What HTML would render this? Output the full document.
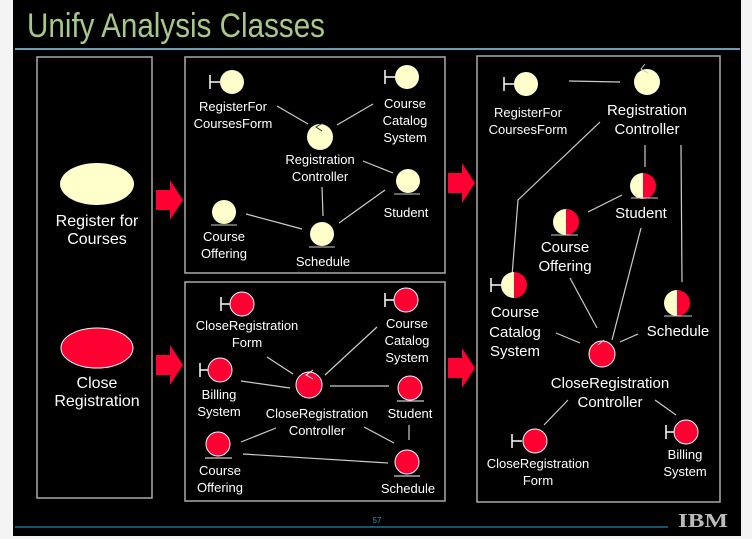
<!DOCTYPE html>
<html><head><meta charset="utf-8"><style>
html,body{margin:0;padding:0;background:#fff;}
svg{display:block;}
text{font-family:"Liberation Sans",sans-serif;fill:#fff;font-size:13px;text-anchor:middle;}
</style></head><body>
<svg width="752" height="539" viewBox="0 0 752 539" xmlns="http://www.w3.org/2000/svg">
<defs>
<clipPath id="lh"><rect x="-20" y="-20" width="20" height="40"/></clipPath>
</defs>
<rect x="0" y="0" width="752" height="539" fill="#f4f4f4"/>
<rect x="13" y="0" width="728" height="536" fill="#000"/>
<text x="27" y="37" style="font-size:34px;fill:#a8c888;text-anchor:start" textLength="298" lengthAdjust="spacingAndGlyphs">Unify Analysis Classes</text>
<line x1="15" y1="49" x2="740" y2="49" stroke="#8fd0f0" stroke-width="1.5"/>
<line x1="15" y1="527" x2="668" y2="527" stroke="#1a7090" stroke-width="1.5"/>
<text x="377" y="523" style="font-size:8px;fill:#3a90c0">57</text>
<text x="703" y="527" style="font-size:20px;font-weight:bold;fill:#bbb;font-family:'Liberation Serif',serif" textLength="50" lengthAdjust="spacingAndGlyphs">IBM</text>

<g fill="none" stroke="#aaa" stroke-width="1.5">
<rect x="37" y="57" width="115" height="441"/>
<rect x="185" y="57" width="260" height="216"/>
<rect x="185" y="282" width="260" height="219"/>
<rect x="477" y="56" width="243" height="446"/>
</g>

<!-- left box -->
<ellipse cx="97" cy="184" rx="37" ry="21" fill="#ffffcc"/>
<text x="97" y="226" style="font-size:16px">Register for</text>
<text x="97" y="244" style="font-size:16px">Courses</text>
<ellipse cx="97" cy="348" rx="36" ry="20" fill="#ff0033" stroke="#fff" stroke-width="1"/>
<text x="97" y="388" style="font-size:16px">Close</text>
<text x="97" y="406" style="font-size:16px">Registration</text>

<!-- arrows -->
<g fill="#ff0033">
<polygon points="156,190 170,190 170,180 183,200 170,220 170,210 156,210"/>
<polygon points="156,355 170,355 170,345 183,365 170,385 170,375 156,375"/>
<polygon points="448,173 462,173 462,163 475,183 462,203 462,193 448,193"/>
<polygon points="448,358 462,358 462,348 475,368 462,388 462,378 448,378"/>
</g>

<!-- connectors -->
<g stroke="#ccc" stroke-width="1.2" fill="none">
<line x1="277" y1="106" x2="308" y2="124"/>
<line x1="373" y1="104" x2="337" y2="125"/>
<line x1="363" y1="161" x2="393" y2="173"/>
<line x1="322" y1="187" x2="323" y2="216"/>
<line x1="246" y1="214" x2="302" y2="229"/>
<line x1="339" y1="223" x2="385" y2="190"/>

<line x1="569" y1="81" x2="620" y2="82"/>
<polyline points="600,122 518,200 512,276"/>
<line x1="645" y1="145" x2="645" y2="167"/>
<line x1="681" y1="145" x2="682" y2="282"/>
<line x1="622" y1="195" x2="588" y2="212"/>
<line x1="641" y1="228" x2="612" y2="340"/>
<line x1="570" y1="278" x2="597" y2="328"/>
<line x1="556" y1="333" x2="580" y2="343"/>
<line x1="620" y1="342" x2="638" y2="334"/>
<line x1="568" y1="400" x2="544" y2="425"/>
<line x1="655" y1="400" x2="676" y2="415"/>

<line x1="267" y1="357" x2="293" y2="374"/>
<line x1="241" y1="381" x2="290" y2="388"/>
<line x1="377" y1="327" x2="325" y2="375"/>
<line x1="330" y1="386" x2="389" y2="386"/>
<line x1="409" y1="425" x2="409" y2="440"/>
<line x1="364" y1="427" x2="394" y2="443"/>
<line x1="276" y1="428" x2="241" y2="442"/>
<line x1="243" y1="454" x2="388" y2="463"/>
</g>

<!-- top middle nodes -->
<g>
<line x1="210" y1="75" x2="210" y2="89" stroke="#fff" stroke-width="1.5"/><line x1="210" y1="82" x2="220" y2="82" stroke="#fff" stroke-width="1.5"/>
<circle cx="232" cy="82" r="12" fill="#ffffcc"/>
<line x1="385" y1="70" x2="385" y2="84" stroke="#fff" stroke-width="1.5"/><line x1="385" y1="77" x2="395" y2="77" stroke="#fff" stroke-width="1.5"/>
<circle cx="407" cy="77" r="12" fill="#ffffcc"/>
<circle cx="320" cy="137" r="13" fill="#ffffcc"/>
<path d="M323 123 L316 127 L322 131" stroke="#333" fill="none" stroke-width="1"/>
<circle cx="408" cy="181" r="12" fill="#ffffcc"/><line x1="394" y1="194" x2="420" y2="194" stroke="#ccc"/>
<circle cx="224" cy="212" r="12" fill="#ffffcc"/><line x1="211" y1="225" x2="237" y2="225" stroke="#ccc"/>
<circle cx="322" cy="234" r="12" fill="#ffffcc"/><line x1="309" y1="247" x2="335" y2="247" stroke="#ccc"/>
</g>
<text x="233" y="111">RegisterFor</text><text x="233" y="128">CoursesForm</text>
<text x="405" y="108">Course</text><text x="405" y="125">Catalog</text><text x="405" y="142">System</text>
<text x="320" y="164">Registration</text><text x="320" y="181">Controller</text>
<text x="406" y="217">Student</text>
<text x="224" y="241">Course</text><text x="224" y="258">Offering</text>
<text x="323" y="266">Schedule</text>

<!-- bottom middle nodes -->
<g stroke="#fff" stroke-width="1">
<line x1="221" y1="297" x2="221" y2="311" stroke-width="1.5"/><line x1="221" y1="304" x2="230" y2="304" stroke-width="1.5"/>
<circle cx="242" cy="304" r="12" fill="#ff0033"/>
<line x1="385" y1="293" x2="385" y2="307" stroke-width="1.5"/><line x1="385" y1="300" x2="394" y2="300" stroke-width="1.5"/>
<circle cx="406" cy="300" r="12" fill="#ff0033"/>
<line x1="200" y1="363" x2="200" y2="377" stroke-width="1.5"/><line x1="200" y1="370" x2="208" y2="370" stroke-width="1.5"/>
<circle cx="220" cy="370" r="12" fill="#ff0033"/>
<circle cx="309" cy="385" r="13" fill="#ff0033"/>
<path d="M313 370 L306 375 L313 379" fill="none"/>
<circle cx="410" cy="388" r="12" fill="#ff0033"/><line x1="397" y1="401" x2="424" y2="401"/>
<circle cx="218" cy="444" r="12" fill="#ff0033"/><line x1="205" y1="458" x2="232" y2="458"/>
<circle cx="407" cy="462" r="12" fill="#ff0033"/><line x1="394" y1="476" x2="420" y2="476"/>
</g>
<text x="247" y="330">CloseRegistration</text><text x="247" y="347">Form</text>
<text x="407" y="328">Course</text><text x="407" y="345">Catalog</text><text x="407" y="362">System</text>
<text x="219" y="399">Billing</text><text x="219" y="416">System</text>
<text x="317" y="418">CloseRegistration</text><text x="317" y="435">Controller</text>
<text x="410" y="418">Student</text>
<text x="220" y="475">Course</text><text x="220" y="492">Offering</text>
<text x="408" y="493">Schedule</text>

<!-- right box nodes -->
<g>
<line x1="504" y1="77" x2="504" y2="91" stroke="#fff" stroke-width="1.5"/><line x1="504" y1="84" x2="514" y2="84" stroke="#fff" stroke-width="1.5"/>
<circle cx="526" cy="84" r="12" fill="#ffffcc"/>
<circle cx="647" cy="82" r="13" fill="#ffffcc"/>
<path d="M645 64 L641 69 L648 73" stroke="#ccc" fill="none"/>
</g>
<g>
<path d="M643 173 A13 13 0 0 0 643 199 Z" fill="#ffffcc"/><path d="M643 173 A13 13 0 0 1 643 199 Z" fill="#ff0033"/>
<line x1="631" y1="198" x2="658" y2="198" stroke="#ccc"/>
<path d="M566 209 A13 13 0 0 0 566 235 Z" fill="#ffffcc"/><path d="M566 209 A13 13 0 0 1 566 235 Z" fill="#ff0033"/>
<line x1="551" y1="235" x2="578" y2="235" stroke="#ccc"/>
<line x1="491" y1="278" x2="491" y2="292" stroke="#fff" stroke-width="1.5"/><line x1="491" y1="285" x2="502" y2="285" stroke="#fff" stroke-width="1.5"/>
<path d="M514 272 A13 13 0 0 0 514 298 Z" fill="#ffffcc"/><path d="M514 272 A13 13 0 0 1 514 298 Z" fill="#ff0033"/>
<path d="M677 290 A13 13 0 0 0 677 316 Z" fill="#ffffcc"/><path d="M677 290 A13 13 0 0 1 677 316 Z" fill="#ff0033"/>
<line x1="664" y1="316" x2="692" y2="316" stroke="#ccc"/>
<circle cx="602" cy="354" r="13" fill="#ff0033" stroke="#fff"/>
<path d="M604 340 L598 345" stroke="#ccc" fill="none"/>
<line x1="512" y1="434" x2="512" y2="448" stroke="#fff" stroke-width="1.5"/><line x1="512" y1="441" x2="522" y2="441" stroke="#fff" stroke-width="1.5"/>
<circle cx="535" cy="441" r="12" fill="#ff0033" stroke="#fff"/>
<line x1="666" y1="425" x2="666" y2="439" stroke="#fff" stroke-width="1.5"/><line x1="666" y1="432" x2="674" y2="432" stroke="#fff" stroke-width="1.5"/>
<circle cx="686" cy="432" r="12" fill="#ff0033" stroke="#fff"/>
</g>
<text x="528" y="117">RegisterFor</text><text x="528" y="134">CoursesForm</text>
<text x="647" y="115" style="font-size:15px">Registration</text><text x="647" y="134" style="font-size:15px">Controller</text>
<text x="641" y="218" style="font-size:15px">Student</text>
<text x="565" y="252" style="font-size:15px">Course</text><text x="565" y="271" style="font-size:15px">Offering</text>
<text x="515" y="317" style="font-size:15px">Course</text><text x="515" y="337" style="font-size:15px">Catalog</text><text x="515" y="356" style="font-size:15px">System</text>
<text x="678" y="336" style="font-size:15px">Schedule</text>
<text x="610" y="388" style="font-size:15px">CloseRegistration</text><text x="610" y="407" style="font-size:15px">Controller</text>
<text x="538" y="468">CloseRegistration</text><text x="538" y="485">Form</text>
<text x="685" y="459">Billing</text><text x="685" y="476">System</text>
</svg>
</body></html>
